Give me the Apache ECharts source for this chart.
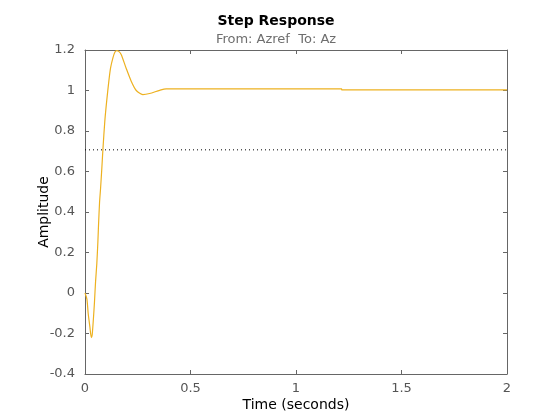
<!DOCTYPE html>
<html>
<head>
<meta charset="utf-8">
<script src="https://cdn.jsdelivr.net/npm/echarts@6/dist/echarts.min.js"></script>
<style>html,body{margin:0;padding:0;background:#fff;}#c{width:560px;height:420px;}</style>
</head>
<body>
<div id="c"></div>
<script>
// Step response samples
const timeSec = [0, 0.009, 0.015, 0.023, 0.030, 0.034, 0.040, 0.045, 0.050, 0.056, 0.061, 0.064, 0.069, 0.074, 0.080, 0.085, 0.094, 0.103, 0.113, 0.121, 0.132, 0.142, 0.151, 0.160, 0.172, 0.195, 0.219, 0.243, 0.274, 0.306, 0.354, 0.385, 1.216, 1.217, 2.0];
const amplitude = [0, -0.03, -0.10, -0.166, -0.22, -0.207, -0.125, -0.043, 0.055, 0.145, 0.252, 0.333, 0.448, 0.52, 0.62, 0.71, 0.85, 0.95, 1.046, 1.11, 1.16, 1.19, 1.197, 1.193, 1.177, 1.11, 1.046, 1.0, 0.98, 0.985, 1.001, 1.008, 1.008, 1.003, 1.003];
const refLevel = 0.707;
const xTicks = ["0", "0.5", "1", "1.5", "2"];
const yTicks = ["-0.4", "-0.2", "0", "0.2", "0.4", "0.6", "0.8", "1", "1.2"];

const FONT = 'DejaVu Sans';
const axisColor = '#666666';
const chart = echarts.init(document.getElementById('c'), null, {renderer: 'canvas'});
const fmtX = v => { const i = Math.round(v / 0.5); return xTicks[i] !== undefined ? xTicks[i] : ''; };
const fmtY = v => { const i = Math.round((v + 0.4) / 0.2); return yTicks[i] !== undefined ? yTicks[i] : ''; };
const baseX = {type: 'value', min: 0, max: 2, interval: 0.5, splitLine: {show: false},
  axisLine: {show: true, onZero: false, lineStyle: {color: axisColor, width: 1}},
  axisTick: {show: true, inside: true, length: 4, lineStyle: {color: axisColor}}};
const baseY = {type: 'value', min: -0.4, max: 1.2, interval: 0.2, splitLine: {show: false},
  axisLine: {show: true, onZero: false, lineStyle: {color: axisColor, width: 1}},
  axisTick: {show: true, inside: true, length: 4, lineStyle: {color: axisColor}}};
chart.setOption({
  animation: false,
  backgroundColor: '#ffffff',
  grid: {left: 85, top: 50, right: 53, bottom: 46, containLabel: false},
  graphic: [
    {type: 'text', style: {text: 'Step Response', x: 276, y: 14, textAlign: 'center', textVerticalAlign: 'top', fontFamily: FONT, fontWeight: 'bold', fontSize: 14, fill: '#000'}},
    {type: 'text', style: {text: 'From: Azref  To: Az', x: 276, y: 33, textAlign: 'center', textVerticalAlign: 'top', fontFamily: FONT, fontSize: 13, fill: '#6e6e6e'}}
  ],
  xAxis: [
    Object.assign({}, baseX, {position: 'bottom', name: 'Time (seconds)', nameLocation: 'middle', nameGap: 24, nameMoveOverlap: false,
      nameTextStyle: {fontFamily: FONT, fontSize: 14, color: '#000'},
      axisLabel: {show: true, margin: 8, fontFamily: FONT, fontSize: 13, color: '#555', formatter: fmtX}}),
    Object.assign({}, baseX, {position: 'top', axisLabel: {show: false}})
  ],
  yAxis: [
    Object.assign({}, baseY, {position: 'left', name: 'Amplitude', nameLocation: 'middle', nameGap: 34, nameMoveOverlap: false,
      nameTextStyle: {fontFamily: FONT, fontSize: 14, color: '#000'},
      axisLabel: {show: true, margin: 10, fontFamily: FONT, fontSize: 13, color: '#555', formatter: fmtY}}),
    Object.assign({}, baseY, {position: 'right', axisLabel: {show: false}})
  ],
  series: [
    {type: 'line', xAxisIndex: 0, yAxisIndex: 0, showSymbol: false, smooth: 0.25,
      data: timeSec.map((t, i) => [t, amplitude[i]]),
      lineStyle: {color: '#EDB120', width: 1.2}, itemStyle: {color: '#EDB120'}, z: 3},
    {type: 'line', xAxisIndex: 0, yAxisIndex: 0, showSymbol: false,
      data: [[0, refLevel], [2, refLevel]],
      lineStyle: {color: '#000', width: 1, type: [1, 3]}, z: 2}
  ]
});
</script>
</body>
</html>
